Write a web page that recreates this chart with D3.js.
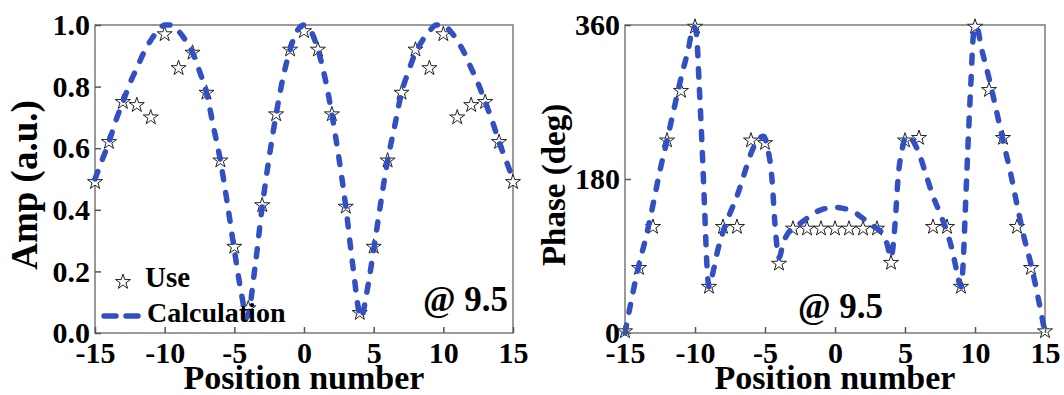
<!DOCTYPE html>
<html>
<head>
<meta charset="utf-8">
<script src="https://cdn.jsdelivr.net/npm/d3@7"></script>
<style>
  body { margin: 0; background: #ffffff; }
  svg { display: block; }
</style>
</head>
<body>
<div id="chart"></div>
<script>
// positions of the elements (stars)
const positions = d3.range(-15, 16);
const ampUse = [0.49, 0.62, 0.75, 0.74, 0.70, 0.97, 0.86, 0.91, 0.78, 0.56, 0.28,
                0.08, 0.415, 0.71, 0.92, 0.98, 0.92, 0.71, 0.41, 0.065, 0.28, 0.56,
                0.78, 0.92, 0.86, 0.97, 0.70, 0.74, 0.75, 0.62, 0.49];
const phaseUse = [2, 76, 124, 225, 283, 358, 54, 124, 124, 225, 222,
                  81, 122, 122, 122, 122, 122, 122, 122, 82, 225, 228,
                  124, 124, 54, 358, 284, 228, 124, 76, 2];

// calculated curves
const ampCalcX = [-15, -14.5, -14, -13.5, -13, -12.5, -12, -11.5, -11, -10.5, -10, -9.5, -9,
                  -8.5, -8, -7.5, -7, -6.5, -6, -5.5, -5, -4.5, -4.1, -3.5, -3, -2.5, -2, -1.5,
                  -1, -0.5, 0, 0.5, 1, 1.5, 2, 2.5, 3, 3.5, 4.1, 4.5, 5, 5.5, 6, 6.5, 7, 7.5,
                  8, 8.5, 9, 9.5, 10, 10.5, 11, 11.5, 12, 12.5, 13, 13.5, 14, 14.5, 15];
const ampCalc = [0.50, 0.56, 0.62, 0.69, 0.75, 0.81, 0.86, 0.91, 0.95, 0.98, 1.0, 1.0, 0.98,
                 0.95, 0.91, 0.85, 0.78, 0.67, 0.56, 0.42, 0.27, 0.13, 0.05, 0.22, 0.41, 0.57,
                 0.71, 0.83, 0.92, 0.98, 1.0, 0.98, 0.92, 0.83, 0.71, 0.57, 0.41, 0.22, 0.05,
                 0.13, 0.27, 0.42, 0.56, 0.67, 0.78, 0.85, 0.91, 0.95, 0.98, 1.0, 1.0, 0.98,
                 0.95, 0.91, 0.86, 0.81, 0.75, 0.69, 0.62, 0.56, 0.50];

const phaseCalcX = [-15, -14.5, -14, -13.5, -13, -12.5, -12, -11.5, -11, -10.5, -10.1, -9.9,
                    -9.7, -9.5, -9.3, -9.15, -9, -8.7, -8.4, -8, -7.5, -7, -6.5, -6, -5.5,
                    -5.1, -4.8, -4.5, -4.3, -4.1, -4.0, -3.7, -3.3, -3, -2.5, -2, -1.5, -1,
                    -0.5, 0, 0.5, 1, 1.5, 2, 2.5, 3, 3.3, 3.7, 4.0, 4.1, 4.3, 4.5, 4.8, 5.1,
                    5.5, 6, 6.5, 7, 7.5, 8, 8.4, 8.7, 9, 9.15, 9.3, 9.5, 9.7, 9.9, 10.1, 10.5,
                    11, 11.5, 12, 12.5, 13, 13.5, 14, 14.5, 15];
const phaseCalc = [0, 42, 80, 112, 150, 190, 225, 262, 298, 330, 358, 350,
                   290, 220, 140, 80, 54, 72, 95, 118, 140, 160, 185, 210, 226,
                   230, 215, 180, 130, 95, 88, 105, 118, 122, 128, 134, 140, 144,
                   146, 147, 146, 144, 140, 134, 128, 122, 118, 105, 88, 95, 130, 180, 215, 230,
                   226, 210, 185, 160, 140, 118, 95, 72, 54, 80, 140, 220, 290, 350, 358, 330,
                   298, 262, 225, 190, 150, 112, 80, 42, 0];

const xTicks = [-15, -10, -5, 0, 5, 10, 15];
const ampTicks = [0.0, 0.2, 0.4, 0.6, 0.8, 1.0];
const phaseTicks = [0, 180, 360];

const fontFamily = "'Liberation Serif', 'Times New Roman', serif";
const blue = "#3350c2";

const svg = d3.select("#chart")
    .append("svg")
    .attr("width", 1064)
    .attr("height", 395);

function drawChart(panel) {
    const { left, top, width, height } = panel;
    const g = svg.append("g")
        .attr("transform", "translate(" + left + "," + top + ")");

    const xScale = d3.scaleLinear().domain([-15, 15]).range([0, width]);
    const yScale = d3.scaleLinear().domain(panel.yDomain).range([height, 0]);

    const xAxis = d3.axisBottom(xScale)
        .tickValues(xTicks)
        .tickSize(-6)
        .tickPadding(9)
        .tickFormat(d => String(d));
    const yAxis = d3.axisLeft(yScale)
        .tickValues(panel.yTicks)
        .tickSize(-6)
        .tickPadding(5)
        .tickFormat(panel.yFormat);

    // frame
    g.append("rect")
        .attr("width", width)
        .attr("height", height)
        .style("fill", "none")
        .style("stroke", "#7a7a7a")
        .style("stroke-width", 1.5);

    // stars first, dashes drawn over them
    g.selectAll(".star")
        .data(panel.use)
        .enter()
        .append("path")
        .attr("class", "star")
        .attr("transform", (d, i) => "translate(" + xScale(positions[i]) + "," + yScale(d) + ")")
        .attr("d", d3.symbol().type(d3.symbolStar).size(70))
        .style("fill", "#ffffff")
        .style("stroke", "#222222")
        .style("stroke-width", 1);

    const lineData = d3.line()
        .x((d, i) => xScale(panel.calcX[i]))
        .y(d => yScale(d))
        .curve(d3.curveMonotoneX);

    g.append("path")
        .datum(panel.calc)
        .attr("d", lineData)
        .style("fill", "none")
        .style("stroke", blue)
        .style("stroke-width", 5.5)
        .style("stroke-linecap", "round")
        .style("stroke-dasharray", "8,13");

    const ax = g.append("g")
        .attr("transform", "translate(0," + height + ")")
        .call(xAxis);
    const ay = g.append("g").call(yAxis);

    [ax, ay].forEach(a => {
        a.select(".domain").remove();
        a.selectAll(".tick line").style("stroke", "#555555").style("stroke-width", 1.5);
        a.selectAll(".tick text")
            .style("font-family", fontFamily)
            .style("font-weight", "bold")
            .style("font-size", "30px")
            .style("fill", "#000000");
    });
    ax.selectAll(".tick text").attr("dy", "0.71em");
    ay.selectAll(".tick text").attr("dy", "0.32em");

    g.append("text")
        .attr("x", width / 2)
        .attr("y", height + 56)
        .attr("text-anchor", "middle")
        .style("font-family", fontFamily)
        .style("font-weight", "bold")
        .style("font-size", "34px")
        .text("Position number");

    g.append("text")
        .attr("transform", "translate(" + panel.yLabelX + "," + (height / 2 + 6) + ") rotate(-90)")
        .attr("text-anchor", "middle")
        .style("font-family", fontFamily)
        .style("font-weight", "bold")
        .style("font-size", panel.yLabelSize)
        .text(panel.yLabel);

    g.append("text")
        .attr("x", panel.noteX)
        .attr("y", panel.noteY)
        .attr("text-anchor", panel.noteAnchor)
        .style("font-family", fontFamily)
        .style("font-weight", "bold")
        .style("font-size", "35px")
        .text("@ 9.5");

    return { g, xScale, yScale };
}

const ampPanel = drawChart({
    left: 95, top: 25, width: 418, height: 308,
    yDomain: [0, 1], yTicks: ampTicks, yFormat: d3.format(".1f"),
    use: ampUse, calc: ampCalc, calcX: ampCalcX,
    yLabel: "Amp (a.u.)", yLabelX: -58, yLabelSize: "37px",
    noteX: 413, noteY: 286, noteAnchor: "end"
});

drawChart({
    left: 625, top: 25, width: 420, height: 308,
    yDomain: [0, 360], yTicks: phaseTicks, yFormat: d3.format("d"),
    use: phaseUse, calc: phaseCalc, calcX: phaseCalcX,
    yLabel: "Phase (deg)", yLabelX: -60, yLabelSize: "33px",
    noteX: 173, noteY: 293, noteAnchor: "start"
});

// legend inside the amplitude panel
const legend = ampPanel.g.append("g");
legend.append("path")
    .attr("transform", "translate(28,257)")
    .attr("d", d3.symbol().type(d3.symbolStar).size(70))
    .style("fill", "#ffffff")
    .style("stroke", "#222222")
    .style("stroke-width", 1);
legend.append("text")
    .attr("x", 50).attr("y", 262)
    .style("font-family", fontFamily)
    .style("font-weight", "bold")
    .style("font-size", "29px")
    .text("Use");
legend.append("line")
    .attr("x1", 9).attr("x2", 46)
    .attr("y1", 291).attr("y2", 291)
    .style("stroke", blue)
    .style("stroke-width", 5.5)
    .style("stroke-linecap", "round")
    .style("stroke-dasharray", "12,10");
legend.append("text")
    .attr("x", 52).attr("y", 297)
    .style("font-family", fontFamily)
    .style("font-weight", "bold")
    .style("font-size", "28px")
    .text("Calculation");
</script>
</body>
</html>
